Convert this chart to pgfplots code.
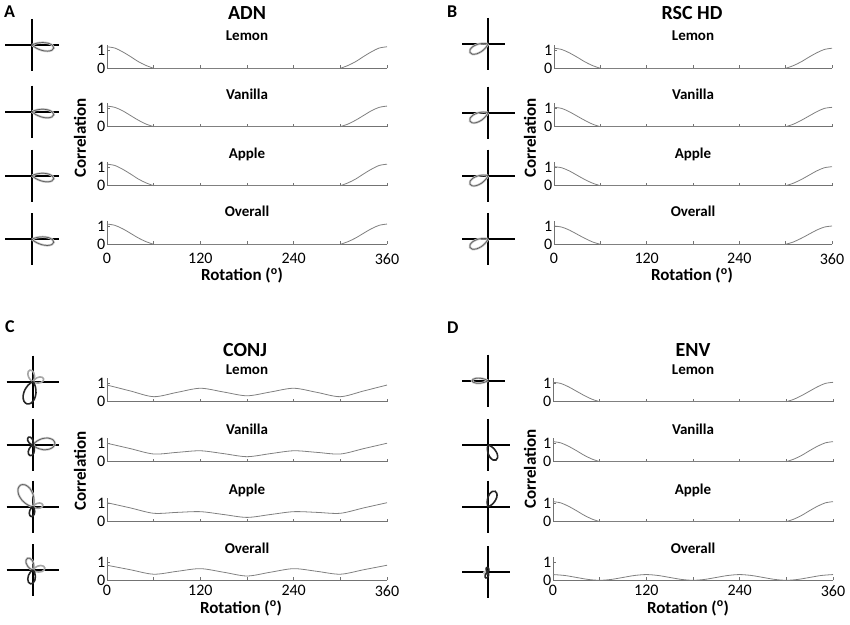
\documentclass[border=0pt]{standalone}
\usepackage{pgfplots}
\pgfplotsset{compat=1.18}
\usepgfplotslibrary{polar}
\usepackage{fontspec}
\setmainfont{Carlito}
\definecolor{axgray}{gray}{0.45}
\definecolor{curvegray}{gray}{0.5}
\pgfplotsset{
 small/.style={
  width=280pt, height=23.3pt, scale only axis, anchor=south west,
  xmin=0, xmax=360, ymin=0, ymax=1.3,
  axis x line=bottom, axis y line=left, axis line style={-, axgray, line width=0.9pt},
  xtick={0,60,...,360}, xticklabels={}, ytick={0,1}, yticklabels={0,1},
  tick align=inside, major tick length=3pt, tick style={axgray, line width=0.8pt},
  ticklabel style={font=\fontsize{16}{16}\selectfont},
  yticklabel style={inner sep=0.5pt, xshift=-1pt},
  xticklabel style={inner sep=1pt, yshift=-8pt},
  /pgf/number format/assume math mode=true,
  title style={at={(0.5,1)}, anchor=base, yshift=-2pt, font=\bfseries\fontsize{15}{15}\selectfont},
  clip=false,
 },
 bottomrow/.style={xticklabels={0,,120,,240,,360}},
 lowerpanel/.style={xticklabel style={yshift=4pt}},
 crv/.style={color=curvegray, line width=0.8pt, smooth, no markers},
 flat/.style={color=curvegray, line width=0.8pt, no markers},
 icon/.style={hide axis, xmin=0, xmax=360, ymin=0, ymax=26, width=52pt, height=52pt,
   scale only axis, anchor=center, clip=false},
 cross/.style={black, line width=1.8pt, no markers},
 lobeL/.style={gray!45, line width=2.2pt, smooth, no markers},
 lobeD/.style={black!65, line width=0.7pt, smooth, no markers},
 lobeK/.style={black!85, line width=1.6pt, smooth, no markers},
 lobeG/.style={gray!70, line width=1.6pt, smooth, no markers},
}
\begin{document}
\begin{tikzpicture}[x=1pt,y=1pt]
\useasboundingbox (0,0) rectangle (850,624);
% panel letters and titles
\node[anchor=base west, inner sep=0, font=\bfseries\fontsize{18}{18}\selectfont] at (4,606) {A};
\node[anchor=base west, inner sep=0, font=\bfseries\fontsize{18}{18}\selectfont] at (447,606) {B};
\node[anchor=base west, inner sep=0, font=\bfseries\fontsize{18}{18}\selectfont] at (5,291) {C};
\node[anchor=base west, inner sep=0, font=\bfseries\fontsize{18}{18}\selectfont] at (447,290) {D};
\node[anchor=base, inner sep=0, font=\bfseries\fontsize{20}{20}\selectfont] at (247,604.5) {ADN};
\node[anchor=base, inner sep=0, font=\bfseries\fontsize{20}{20}\selectfont] at (692,604.5) {RSC HD};
\node[anchor=base, inner sep=0, font=\bfseries\fontsize{20}{20}\selectfont] at (245,267.5) {CONJ};
\node[anchor=base, inner sep=0, font=\bfseries\fontsize{20}{20}\selectfont] at (693,267.5) {ENV};
% axis labels
\node[anchor=base, inner sep=0, font=\bfseries\fontsize{17}{17}\selectfont] at (242,343.5) {Rotation (\textsuperscript{o})};
\node[anchor=base, inner sep=0, font=\bfseries\fontsize{17}{17}\selectfont] at (692,343.5) {Rotation (\textsuperscript{o})};
\node[anchor=base, inner sep=0, font=\bfseries\fontsize{17}{17}\selectfont] at (241,11) {Rotation (\textsuperscript{o})};
\node[anchor=base, inner sep=0, font=\bfseries\fontsize{17}{17}\selectfont] at (688,11) {Rotation (\textsuperscript{o})};
\node[rotate=90, inner sep=0, font=\bfseries\fontsize{17}{17}\selectfont] at (80,486) {Correlation};
\node[rotate=90, inner sep=0, font=\bfseries\fontsize{17}{17}\selectfont] at (530,486) {Correlation};
\node[rotate=90, inner sep=0, font=\bfseries\fontsize{17}{17}\selectfont] at (80,153) {Correlation};
\node[rotate=90, inner sep=0, font=\bfseries\fontsize{17}{17}\selectfont] at (530,155) {Correlation};

% ================= A: ADN =================
\begin{axis}[small, at={(107pt,555.7pt)}, title={Lemon}]
\addplot[crv] coordinates {(0,1.2)(10,1.13)(20,0.92)(30,0.66)(40,0.38)(50,0.16)(60,0)};
\addplot[flat] coordinates {(60,0)(300,0)};
\addplot[crv] coordinates {(300,0)(310,0.16)(320,0.38)(330,0.66)(340,0.92)(350,1.13)(360,1.2)};
\end{axis}
\begin{axis}[small, at={(107pt,497.3pt)}, title={Vanilla}]
\addplot[crv] coordinates {(0,1.15)(10,1.08)(20,0.89)(30,0.63)(40,0.37)(50,0.15)(60,0)};
\addplot[flat] coordinates {(60,0)(300,0)};
\addplot[crv] coordinates {(300,0)(310,0.15)(320,0.37)(330,0.63)(340,0.89)(350,1.08)(360,1.15)};
\end{axis}
\begin{axis}[small, at={(107pt,438.3pt)}, title={Apple}]
\addplot[crv] coordinates {(0,1.2)(10,1.13)(20,0.92)(30,0.66)(40,0.38)(50,0.16)(60,0)};
\addplot[flat] coordinates {(60,0)(300,0)};
\addplot[crv] coordinates {(300,0)(310,0.16)(320,0.38)(330,0.66)(340,0.92)(350,1.13)(360,1.2)};
\end{axis}
\begin{axis}[small, bottomrow, at={(107pt,379.7pt)}, title={Overall}]
\addplot[crv] coordinates {(0,1.13)(10,1.06)(20,0.87)(30,0.62)(40,0.36)(50,0.15)(60,0)};
\addplot[flat] coordinates {(60,0)(300,0)};
\addplot[crv] coordinates {(300,0)(310,0.15)(320,0.36)(330,0.62)(340,0.87)(350,1.06)(360,1.13)};
\end{axis}

% ================= B: RSC HD =================
\begin{axis}[small, width=278pt, at={(554pt,555.7pt)}, title={Lemon}]
\addplot[crv] coordinates {(0,1.12)(10,1.05)(20,0.86)(30,0.62)(40,0.36)(50,0.15)(60,0)};
\addplot[flat] coordinates {(60,0)(300,0)};
\addplot[crv] coordinates {(300,0)(310,0.15)(320,0.36)(330,0.62)(340,0.86)(350,1.05)(360,1.12)};
\end{axis}
\begin{axis}[small, width=278pt, at={(554pt,497.3pt)}, title={Vanilla}]
\addplot[crv] coordinates {(0,1.08)(10,1.02)(20,0.83)(30,0.59)(40,0.35)(50,0.14)(60,0)};
\addplot[flat] coordinates {(60,0)(300,0)};
\addplot[crv] coordinates {(300,0)(310,0.14)(320,0.35)(330,0.59)(340,0.83)(350,1.02)(360,1.08)};
\end{axis}
\begin{axis}[small, width=278pt, at={(554pt,438.3pt)}, title={Apple}]
\addplot[crv] coordinates {(0,1.06)(10,1.0)(20,0.82)(30,0.58)(40,0.34)(50,0.14)(60,0)};
\addplot[flat] coordinates {(60,0)(300,0)};
\addplot[crv] coordinates {(300,0)(310,0.14)(320,0.34)(330,0.58)(340,0.82)(350,1.0)(360,1.06)};
\end{axis}
\begin{axis}[small, width=278pt, bottomrow, at={(554pt,379.7pt)}, title={Overall}]
\addplot[crv] coordinates {(0,1.02)(10,0.96)(20,0.79)(30,0.56)(40,0.33)(50,0.13)(60,0)};
\addplot[flat] coordinates {(60,0)(300,0)};
\addplot[crv] coordinates {(300,0)(310,0.13)(320,0.33)(330,0.56)(340,0.79)(350,0.96)(360,1.02)};
\end{axis}

% ================= C: CONJ =================
\begin{axis}[small, at={(107pt,222.3pt)}, title={Lemon}]
\addplot[crv] coordinates {(0,0.93)(30,0.6)(60,0.28)(90,0.52)(120,0.75)(150,0.54)(180,0.33)(210,0.54)(240,0.75)(270,0.52)(300,0.28)(330,0.6)(360,0.93)};
\end{axis}
\begin{axis}[small, at={(107pt,162.3pt)}, title={Vanilla}]
\addplot[crv] coordinates {(0,1.03)(30,0.73)(60,0.43)(90,0.52)(120,0.61)(150,0.45)(180,0.28)(210,0.45)(240,0.61)(270,0.52)(300,0.43)(330,0.73)(360,1.03)};
\end{axis}
\begin{axis}[small, at={(107pt,102.3pt)}, title={Apple}]
\addplot[crv] coordinates {(0,1.06)(30,0.77)(60,0.47)(90,0.52)(120,0.56)(150,0.4)(180,0.24)(210,0.4)(240,0.56)(270,0.52)(300,0.47)(330,0.77)(360,1.06)};
\end{axis}
\begin{axis}[small, bottomrow, lowerpanel, at={(107pt,43.7pt)}, title={Overall}]
\addplot[crv] coordinates {(0,0.84)(30,0.59)(60,0.34)(90,0.5)(120,0.65)(150,0.45)(180,0.24)(210,0.45)(240,0.65)(270,0.5)(300,0.34)(330,0.59)(360,0.84)};
\end{axis}

% ================= D: ENV =================
\begin{axis}[small, at={(553pt,222.3pt)}, title={Lemon}]
\addplot[crv] coordinates {(0,1.08)(10,1.02)(20,0.83)(30,0.59)(40,0.35)(50,0.14)(60,0)};
\addplot[flat] coordinates {(60,0)(300,0)};
\addplot[crv] coordinates {(300,0)(310,0.14)(320,0.35)(330,0.59)(340,0.83)(350,1.02)(360,1.08)};
\end{axis}
\begin{axis}[small, at={(553pt,162.3pt)}, title={Vanilla}]
\addplot[crv] coordinates {(0,1.12)(10,1.05)(20,0.86)(30,0.62)(40,0.36)(50,0.15)(60,0)};
\addplot[flat] coordinates {(60,0)(300,0)};
\addplot[crv] coordinates {(300,0)(310,0.15)(320,0.36)(330,0.62)(340,0.86)(350,1.05)(360,1.12)};
\end{axis}
\begin{axis}[small, at={(553pt,102.3pt)}, title={Apple}]
\addplot[crv] coordinates {(0,1.12)(10,1.05)(20,0.86)(30,0.62)(40,0.36)(50,0.15)(60,0)};
\addplot[flat] coordinates {(60,0)(300,0)};
\addplot[crv] coordinates {(300,0)(310,0.15)(320,0.36)(330,0.62)(340,0.86)(350,1.05)(360,1.12)};
\end{axis}
\begin{axis}[small, bottomrow, lowerpanel, at={(553pt,43.7pt)}, title={Overall}]
\addplot[crv] coordinates {(0,0.32)(15,0.27)(30,0.16)(45,0.05)(60,0)(75,0.05)(90,0.16)(105,0.27)(120,0.32)(135,0.27)(150,0.16)(165,0.05)(180,0)(195,0.05)(210,0.16)(225,0.27)(240,0.32)(255,0.27)(270,0.16)(285,0.05)(300,0)(315,0.05)(330,0.16)(345,0.27)(360,0.32)};
\end{axis}

% ================= icons A =================
\foreach \yy in {579,512.3,448.3,384.7}{
\begin{polaraxis}[icon, at={(32pt,\yy pt)}]
\addplot[cross] coordinates {(180,26.5)(0,26.5)};
\addplot[cross] coordinates {(90,26)(270,26)};
\addplot[lobeL] coordinates {(-50,0)(-43,1.5)(-36,5.5)(-29,11)(-22,16.5)(-15,20.5)(-8,22)(-1,20.5)(6,16.5)(13,11)(20,5.5)(27,1.5)(34,0)};
\addplot[lobeD] coordinates {(-50,0)(-43,1.5)(-36,5.5)(-29,11)(-22,16.5)(-15,20.5)(-8,22)(-1,20.5)(6,16.5)(13,11)(20,5.5)(27,1.5)(34,0)};
\end{polaraxis}
}
% ================= icons B =================
\foreach \yy/\rr in {580/16.7,511.3/26.7,448.3/26.7,385/26.7}{
\begin{polaraxis}[icon, at={(488pt,\yy pt)}]
\addplot[cross] coordinates {(180,25.6)(0,\rr)};
\addplot[cross] coordinates {(90,26)(270,26)};
\addplot[lobeL] coordinates {(157,0)(165,1.3)(173,5)(181,10)(189,15)(197,18.7)(205,20)(213,18.7)(221,15)(229,10)(237,5)(245,1.3)(253,0)};
\addplot[lobeD] coordinates {(157,0)(165,1.3)(173,5)(181,10)(189,15)(197,18.7)(205,20)(213,18.7)(221,15)(229,10)(237,5)(245,1.3)(253,0)};
\end{polaraxis}
}
% ================= icons C =================
\begin{polaraxis}[icon, at={(33pt,242.3pt)}]
\addplot[cross] coordinates {(180,26.3)(0,26.3)};
\addplot[cross] coordinates {(90,26)(270,26)};
\addplot[lobeG] coordinates {(45,0)(55,0.8)(65,3)(75,6)(85,9)(95,11.2)(105,12)(115,11.2)(125,9)(135,6)(145,3)(155,0.8)(165,0)};
\addplot[lobeG] coordinates {(-45,0)(-35,0.7)(-25,2.8)(-15,5.5)(-5,8.3)(5,10.3)(15,11)(25,10.3)(35,8.3)(45,5.5)(55,2.8)(65,0.7)(75,0)};
\addplot[lobeK] coordinates {(195,0)(205,1.5)(215,5.8)(225,11.5)(235,17.3)(245,21.5)(255,23)(265,21.5)(275,17.3)(285,11.5)(295,5.8)(305,1.5)(315,0)};
\end{polaraxis}
\begin{polaraxis}[icon, at={(33pt,179pt)}]
\addplot[cross] coordinates {(180,26.3)(0,26.3)};
\addplot[cross] coordinates {(90,26)(270,26)};
\addplot[lobeL] coordinates {(-55,0)(-45,1.5)(-35,5.5)(-25,11)(-15,16.5)(-5,20.5)(5,22)(15,20.5)(25,16.5)(35,11)(45,5.5)(55,1.5)(65,0)};
\addplot[lobeD] coordinates {(-55,0)(-45,1.5)(-35,5.5)(-25,11)(-15,16.5)(-5,20.5)(5,22)(15,20.5)(25,16.5)(35,11)(45,5.5)(55,1.5)(65,0)};
\addplot[lobeK] coordinates {(60,0)(70,0.6)(80,2.3)(90,4.5)(100,6.8)(110,8.4)(120,9)(130,8.4)(140,6.8)(150,4.5)(160,2.3)(170,0.6)(180,0)};
\addplot[lobeK] coordinates {(195,0)(205,0.7)(215,2.8)(225,5.5)(235,8.3)(245,10.3)(255,11)(265,10.3)(275,8.3)(285,5.5)(295,2.8)(305,0.7)(315,0)};
\end{polaraxis}
\begin{polaraxis}[icon, at={(33pt,117.3pt)}]
\addplot[cross] coordinates {(180,26.3)(0,26.3)};
\addplot[cross] coordinates {(90,26)(270,26)};
\addplot[lobeL] coordinates {(60,0)(70,1.7)(80,6.3)(90,12.5)(100,18.8)(110,23.3)(120,25)(130,23.3)(140,18.8)(150,12.5)(160,6.3)(170,1.7)(180,0)};
\addplot[lobeD] coordinates {(60,0)(70,1.7)(80,6.3)(90,12.5)(100,18.8)(110,23.3)(120,25)(130,23.3)(140,18.8)(150,12.5)(160,6.3)(170,1.7)(180,0)};
\addplot[lobeG] coordinates {(-50,0)(-40,0.7)(-30,2.5)(-20,5)(-10,7.5)(0,9.3)(10,10)(20,9.3)(30,7.5)(40,5)(50,2.5)(60,0.7)(70,0)};
\addplot[lobeK] coordinates {(200,0)(210,0.7)(220,2.5)(230,5)(240,7.5)(250,9.3)(260,10)(270,9.3)(280,7.5)(290,5)(300,2.5)(310,0.7)(320,0)};
\end{polaraxis}
\begin{polaraxis}[icon, at={(33pt,54pt)}]
\addplot[cross] coordinates {(180,26.3)(0,26.3)};
\addplot[cross] coordinates {(90,26)(270,26)};
\addplot[lobeL] coordinates {(55,0)(65,0.9)(75,3.3)(85,6.5)(95,9.8)(105,12.1)(115,13)(125,12.1)(135,9.8)(145,6.5)(155,3.3)(165,0.9)(175,0)};
\addplot[lobeD] coordinates {(55,0)(65,0.9)(75,3.3)(85,6.5)(95,9.8)(105,12.1)(115,13)(125,12.1)(135,9.8)(145,6.5)(155,3.3)(165,0.9)(175,0)};
\addplot[lobeG] coordinates {(-50,0)(-40,0.8)(-30,3)(-20,6)(-10,9)(0,11.2)(10,12)(20,11.2)(30,9)(40,6)(50,3)(60,0.8)(70,0)};
\addplot[lobeK] coordinates {(200,0)(210,0.9)(220,3.5)(230,7)(240,10.5)(250,13.1)(260,14)(270,13.1)(280,10.5)(290,7)(300,3.5)(310,0.9)(320,0)};
\end{polaraxis}
% ================= icons D =================
\begin{polaraxis}[icon, at={(488pt,243.3pt)}]
\addplot[cross] coordinates {(180,25.6)(0,16.7)};
\addplot[cross] coordinates {(90,26)(270,26)};
\addplot[lobeL] coordinates {(144,0)(150,1.1)(156,4)(162,8)(168,12)(174,14.9)(180,16)(186,14.9)(192,12)(198,8)(204,4)(210,1.1)(216,0)};
\addplot[lobeD] coordinates {(144,0)(150,1.1)(156,4)(162,8)(168,12)(174,14.9)(180,16)(186,14.9)(192,12)(198,8)(204,4)(210,1.1)(216,0)};
\end{polaraxis}
\begin{polaraxis}[icon, at={(488pt,179pt)}]
\addplot[cross] coordinates {(180,25.6)(0,21.7)};
\addplot[cross] coordinates {(90,26)(270,26)};
\addplot[lobeK] coordinates {(244,0)(253,1.1)(262,4.3)(271,8.5)(280,12.8)(289,15.9)(298,17)(307,15.9)(316,12.8)(325,8.5)(334,4.3)(343,1.1)(352,0)};
\end{polaraxis}
\begin{polaraxis}[icon, at={(488pt,117.3pt)}]
\addplot[cross] coordinates {(180,25.6)(0,21.7)};
\addplot[cross] coordinates {(90,26)(270,26)};
\addplot[lobeK] coordinates {(11,0)(20,1.1)(29,4.3)(38,8.5)(47,12.8)(56,15.9)(65,17)(74,15.9)(83,12.8)(92,8.5)(101,4.3)(110,1.1)(119,0)};
\end{polaraxis}
\begin{polaraxis}[icon, at={(488pt,51.7pt)}]
\addplot[cross] coordinates {(180,25.6)(0,21.7)};
\addplot[cross] coordinates {(90,26)(270,26)};
\addplot[lobeL] coordinates {(130,0)(140,0.3)(150,1)(160,2)(170,3)(180,3.7)(190,4)(200,3.7)(210,3)(220,2)(230,1)(240,0.3)(250,0)};
\addplot[lobeK] coordinates {(40,0)(50,0.3)(60,1.3)(70,2.5)(80,3.8)(90,4.7)(100,5)(110,4.7)(120,3.8)(130,2.5)(140,1.3)(150,0.3)(160,0)};
\addplot[lobeK] coordinates {(190,0)(200,0.4)(210,1.5)(220,3)(230,4.5)(240,5.6)(250,6)(260,5.6)(270,4.5)(280,3)(290,1.5)(300,0.4)(310,0)};
\end{polaraxis}
\end{tikzpicture}
\end{document}
